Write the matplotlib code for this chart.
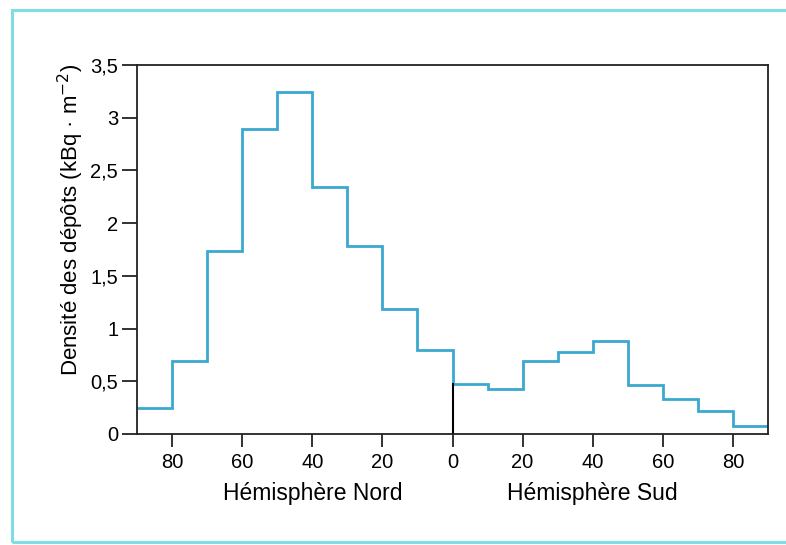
import matplotlib
matplotlib.use("Agg")
from matplotlib import pyplot as plt
from matplotlib.patches import Rectangle

# latitude bands, 10 degrees each, north (90 -> 0) then south (0 -> 90)
lat_edges = [-90, -80, -70, -60, -50, -40, -30, -20, -10, 0,
             10, 20, 30, 40, 50, 60, 70, 80, 90]
deposits = [0.25, 0.69, 1.74, 2.89, 3.24, 2.34, 1.78, 1.19, 0.80,
            0.47, 0.43, 0.69, 0.78, 0.88, 0.46, 0.33, 0.22, 0.08]

xtick_pos = [-80, -60, -40, -20, 0, 20, 40, 60, 80]
xtick_labels = ["80", "60", "40", "20", "0", "20", "40", "60", "80"]
ytick_pos = [0, 0.5, 1, 1.5, 2, 2.5, 3, 3.5]
ytick_labels = ["0", "0,5", "1", "1,5", "2", "2,5", "3", "3,5"]
hemispheres = ["Hémisphère Nord", "Hémisphère Sud"]

plt.rcParams.update({"font.family": ["Liberation Sans", "DejaVu Sans"]})
fs = 14.5

fig = plt.figure(figsize=(7.86, 5.45), dpi=100)
ax = fig.add_axes([0.1743, 0.2037, 0.8028, 0.677])

# cyan frame around the figure
fig.patches.append(Rectangle((0.0155, 0.006), 1.2, 0.976, transform=fig.transFigure,
                             fill=False, edgecolor="#7fdde3", linewidth=2.2))

ax.stairs(deposits, lat_edges, baseline=None, color="#3aa8cf", linewidth=2)
# black marker at the equator
ax.plot([0, 0], [0, deposits[9]], color="black", linewidth=1.5, zorder=1)

ax.set_xlim(-90, 90)
ax.set_ylim(0, 3.5)
ax.set_xticks(xtick_pos)
ax.set_xticklabels(xtick_labels, fontsize=fs)
ax.set_yticks(ytick_pos)
ax.set_yticklabels(ytick_labels, fontsize=fs)
ax.tick_params(axis="x", direction="out", length=9.5, width=1.3, color="#222222", pad=4)
ax.tick_params(axis="y", direction="out", length=11, width=1.3, color="#222222", pad=2.5)
for s in ax.spines.values():
    s.set_linewidth(1.3)
    s.set_color("#222222")

ax.text(-0.105, 0.58, "Densité des dépôts (kBq · m$^{-2}$)", rotation=90,
        ha="center", va="center", fontsize=16, transform=ax.transAxes)

ax.text(-40, -0.56, hemispheres[0], ha="center", va="center", fontsize=16.5)
ax.text(40, -0.56, hemispheres[1], ha="center", va="center", fontsize=16.5)

plt.savefig("out.png", dpi=100)
